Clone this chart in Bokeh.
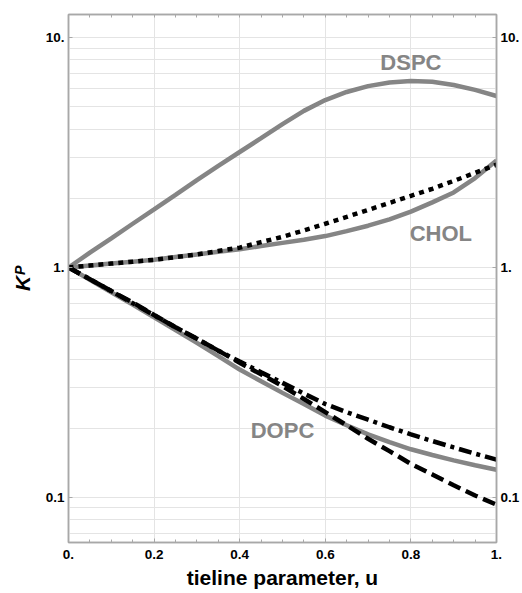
import numpy as np
from bokeh.plotting import figure
from bokeh.models import (Range1d, FixedTicker, LinearAxis, LogAxis, Label,
                          CustomJSTickFormatter, ColumnDataSource)
from bokeh.embed import file_html
from bokeh.resources import INLINE

# ---- data ----
u = [0.0, 0.05, 0.1, 0.15, 0.2, 0.25, 0.3, 0.35, 0.4, 0.45, 0.5,
     0.55, 0.6, 0.65, 0.7, 0.75, 0.8, 0.85, 0.9, 0.95, 1.0]
dspc = [1.0, 1.16, 1.34, 1.55, 1.79, 2.07, 2.40, 2.77, 3.18, 3.65, 4.2,
        4.8, 5.35, 5.8, 6.15, 6.38, 6.47, 6.42, 6.22, 5.92, 5.57]
chol = [1.0, 1.02, 1.04, 1.06, 1.08, 1.11, 1.14, 1.17, 1.2, 1.24, 1.28,
        1.32, 1.37, 1.44, 1.52, 1.62, 1.75, 1.92, 2.12, 2.45, 2.92]
chol_approx = [1.0, 1.02, 1.04, 1.06, 1.08, 1.11, 1.14, 1.18, 1.22, 1.29, 1.36,
               1.45, 1.55, 1.66, 1.78, 1.91, 2.05, 2.2, 2.38, 2.58, 2.8]
dopc = [1.0, 0.885, 0.78, 0.69, 0.607, 0.535, 0.47, 0.412, 0.36, 0.32, 0.285,
        0.255, 0.227, 0.206, 0.188, 0.174, 0.162, 0.153, 0.145, 0.138, 0.132]
dopc_dash = [1.0, 0.89, 0.79, 0.705, 0.622, 0.55, 0.49, 0.435, 0.385, 0.343, 0.305,
             0.268, 0.235, 0.206, 0.18, 0.159, 0.14, 0.126, 0.113, 0.102, 0.093]
dopc_dashdot = [1.0, 0.89, 0.79, 0.70, 0.62, 0.55, 0.49, 0.435, 0.39, 0.35, 0.315,
                0.283, 0.255, 0.235, 0.218, 0.202, 0.188, 0.176, 0.165, 0.155, 0.146]

x_major = [0.0, 0.2, 0.4, 0.6, 0.8, 1.0]
x_minor = [round(0.05 * i, 2) for i in range(21)]
y_major = [0.1, 1.0, 10.0]
y_minor = [0.06, 0.07, 0.08, 0.09, 0.2, 0.3, 0.4, 0.5, 0.6, 0.7, 0.8, 0.9,
           2, 3, 4, 5, 6, 7, 8, 9]

GRAY = "#858585"
AXC = "#a8a8a8"
FONT = "Liberation Sans"

p = figure(width=522, height=593, x_range=Range1d(0, 1),
           y_range=Range1d(0.0637, 12.6), y_axis_type="log",
           output_backend="svg", toolbar_location=None,
           min_border_left=68, min_border_right=24, min_border_top=14,
           min_border_bottom=51)
p.background_fill_color = "white"
p.border_fill_color = "white"
p.outline_line_color = AXC
p.outline_line_width = 1.5

xt = FixedTicker(ticks=x_major, minor_ticks=x_minor)
yt = FixedTicker(ticks=y_major, minor_ticks=y_minor)

xfmt = CustomJSTickFormatter(code="""
if (Math.abs(tick) < 1e-9) return "0.";
if (Math.abs(tick-1) < 1e-9) return "1.";
return tick.toFixed(1);
""")
yfmt = CustomJSTickFormatter(code="""
if (tick < 0.5) return "0.1";
if (tick < 5) return "1.";
return "10.";
""")

def style_axis(ax):
    ax.axis_line_color = AXC
    ax.axis_line_width = 1.5
    ax.major_tick_line_color = AXC
    ax.minor_tick_line_color = AXC
    ax.major_tick_in = 4
    ax.major_tick_out = 0
    ax.minor_tick_in = 3
    ax.minor_tick_out = 0
    ax.major_label_text_font = FONT
    ax.major_label_text_font_style = "bold"
    ax.major_label_text_font_size = "13.5px"
    ax.major_label_text_color = "black"
    ax.major_label_standoff = 5

bx = p.xaxis[0]
bx.ticker = xt
bx.formatter = xfmt
style_axis(bx)
bx.major_label_standoff = 7
bx.axis_label = "tieline parameter, u"
bx.axis_label_text_font = FONT
bx.axis_label_text_font_style = "bold"
bx.axis_label_text_font_size = "21px"
bx.axis_label_text_color = "black"
bx.axis_label_standoff = 4

ly = p.yaxis[0]
ly.ticker = yt
ly.formatter = yfmt
style_axis(ly)
ly.minor_tick_in = 0
ly.major_label_standoff = 4
ly.axis_label = "K\u1d3e"
ly.axis_label_text_font = FONT
ly.axis_label_text_font_style = "bold italic"
ly.axis_label_text_font_size = "21px"
ly.axis_label_text_color = "black"
ly.axis_label_standoff = 9

ry = LogAxis(ticker=yt, formatter=yfmt)
style_axis(ry)
ry.minor_tick_in = 0
ry.major_label_standoff = 4
p.add_layout(ry, "right")

tx = LinearAxis(ticker=FixedTicker(ticks=[], minor_ticks=x_minor))
style_axis(tx)
tx.major_label_text_font_size = "0px"
tx.major_label_standoff = 0
p.add_layout(tx, "above")

p.xgrid.ticker = xt
p.xgrid.grid_line_color = "#e4e4e4"
p.ygrid.ticker = yt
p.ygrid.grid_line_color = "#e4e4e4"
p.ygrid.minor_grid_line_color = "#e4e4e4"

src = ColumnDataSource(dict(u=u, dspc=dspc, chol=chol, chol_approx=chol_approx,
                            dopc=dopc, dopc_dash=dopc_dash,
                            dopc_dashdot=dopc_dashdot))

for col in ["dspc", "chol", "dopc"]:
    p.line("u", col, source=src, line_color=GRAY, line_width=4.5)
p.line("u", "chol_approx", source=src, line_color="black", line_width=4.5,
       line_dash="5 5")
p.line("u", "dopc_dash", source=src, line_color="black", line_width=4.5,
       line_dash="13 6")
p.line("u", "dopc_dashdot", source=src, line_color="black", line_width=4.5,
       line_dash="13 5 4 5")

for txt, x, y in [("DSPC", 0.80, 7.79), ("CHOL", 0.87, 1.41), ("DOPC", 0.50, 0.195)]:
    p.add_layout(Label(x=x, y=y, text=txt, text_font=FONT, text_font_style="bold",
                       text_font_size="22px", text_color=GRAY,
                       text_align="center", text_baseline="middle"))

open("out.html", "w").write(file_html(p, INLINE))
